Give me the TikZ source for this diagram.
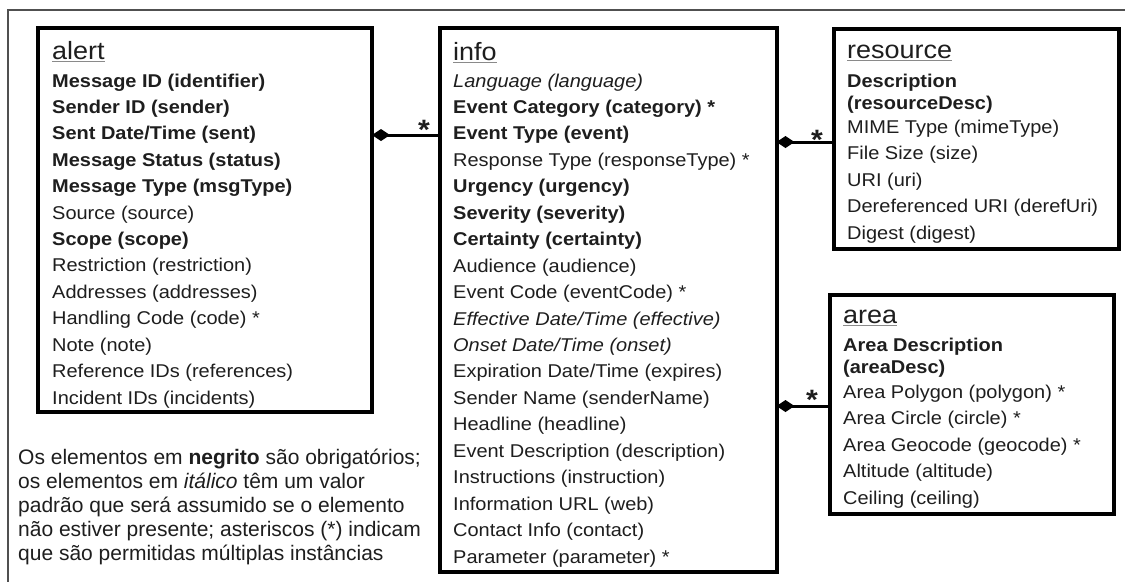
\documentclass[tikz,border=0pt]{standalone}
\usepackage{fontspec}
\usetikzlibrary{arrows.meta}
\newfontfamily\rowfam[FakeStretch=1.08]{Liberation Sans}
\newfontfamily\notefam{Liberation Sans}
\newcommand\rowfont{\rowfam\fontsize{18.5}{22}\selectfont}
\newcommand\ttlfont{\rowfam\fontsize{25}{30}\selectfont}
\newcommand\notefont{\notefam\fontsize{21}{24}\selectfont}
\definecolor{txt}{HTML}{1E1E1E}
\definecolor{framec}{HTML}{505050}
\definecolor{ulc}{HTML}{8A8A8A}
\begin{document}
\begin{tikzpicture}[x=1pt,y=-1pt,
  box/.style={draw=black, line width=4pt, outer sep=0pt, inner sep=0pt, rectangle},
  row/.style={inner sep=0pt, anchor=base west, text=txt},
  ttl/.style={inner sep=0pt, anchor=base west, text=txt, font=\ttlfont},
  ul/.style={draw=ulc, line width=1.4pt},
  conn/.style={line width=3pt, draw=black},
  dia/.style={{Diamond[length=18pt,width=12pt,line width=0pt]}-},
  star/.style={inner sep=0pt, anchor=base, font=\rowfam\fontsize{28}{30}\selectfont\bfseries, text=txt},
  note/.style={inner sep=0pt, anchor=base west, text=txt, font=\notefont}]
\useasboundingbox[fill=white] (0,0) rectangle (1125,582);
% outer frame (top and left only)
\draw[framec, line width=1.5pt] (1125,10) -- (8,10) -- (8,582);
% boxes
\node[box, minimum width=334.5pt, minimum height=384.5pt] (alert) at (204.75,219.75) {};
\node[box, minimum width=337pt, minimum height=544.5pt] (info) at (608,299.75) {};
\node[box, minimum width=285pt, minimum height=219.5pt] (resource) at (976.5,138.75) {};
\node[box, minimum width=283.5pt, minimum height=219.5pt] (area) at (971.75,404.25) {};
% titles
\node[ttl] (tal) at (52,59) {alert};
\node[ttl] (tin) at (453,60) {info};
\node[ttl] (tre) at (847,58) {resource};
\node[ttl] (tar) at (843,323) {area};
\foreach \t in {tal,tin,tre,tar}
  \draw[ul] ([yshift=-2.5pt]\t.base west) -- ([yshift=-2.5pt]\t.base east);
% alert rows
\foreach \fs/\tx [count=\i] in {
  \bfseries/{Message ID (identifier)},
  \bfseries/{Sender ID (sender)},
  \bfseries/{Sent Date/Time (sent)},
  \bfseries/{Message Status (status)},
  \bfseries/{Message Type (msgType)},
  \mdseries/{Source (source)},
  \bfseries/{Scope (scope)},
  \mdseries/{Restriction (restriction)},
  \mdseries/{Addresses (addresses)},
  \mdseries/{Handling Code (code) *},
  \mdseries/{Note (note)},
  \mdseries/{Reference IDs (references)},
  \mdseries/{Incident IDs (incidents)}}
  \node[row, font=\rowfont\fs] (al\i) at (52,{87+26.42*(\i-1)}) {\tx};
% info rows
\foreach \fs/\tx [count=\i] in {
  \itshape/{Language (language)},
  \bfseries/{Event Category (category) *},
  \bfseries/{Event Type (event)},
  \mdseries/{Response Type (responseType) *},
  \bfseries/{Urgency (urgency)},
  \bfseries/{Severity (severity)},
  \bfseries/{Certainty (certainty)},
  \mdseries/{Audience (audience)},
  \mdseries/{Event Code (eventCode) *},
  \itshape/{Effective Date/Time (effective)},
  \itshape/{Onset Date/Time (onset)},
  \mdseries/{Expiration Date/Time (expires)},
  \mdseries/{Sender Name (senderName)},
  \mdseries/{Headline (headline)},
  \mdseries/{Event Description (description)},
  \mdseries/{Instructions (instruction)},
  \mdseries/{Information URL (web)},
  \mdseries/{Contact Info (contact)},
  \mdseries/{Parameter (parameter) *}}
  \node[row, font=\rowfont\fs] (in\i) at (453,{87+26.45*(\i-1)}) {\tx};
% resource rows
\foreach \fs/\yy/\tx [count=\i] in {
  \bfseries/87/{Description},
  \bfseries/109/{(resourceDesc)},
  \mdseries/133/{MIME Type (mimeType)},
  \mdseries/159.5/{File Size (size)},
  \mdseries/186/{URI (uri)},
  \mdseries/212.5/{Dereferenced URI (derefUri)},
  \mdseries/239/{Digest (digest)}}
  \node[row, font=\rowfont\fs] (re\i) at (847,\yy) {\tx};
% area rows
\foreach \fs/\yy/\tx [count=\i] in {
  \bfseries/351/{Area Description},
  \bfseries/373/{(areaDesc)},
  \mdseries/398/{Area Polygon (polygon) *},
  \mdseries/424.5/{Area Circle (circle) *},
  \mdseries/451/{Area Geocode (geocode) *},
  \mdseries/477.5/{Altitude (altitude)},
  \mdseries/504/{Ceiling (ceiling)}}
  \node[row, font=\rowfont\fs] (ar\i) at (843,\yy) {\tx};
% connectors
\coordinate (c1) at (0,135);
\coordinate (c2) at (0,142);
\coordinate (c3) at (0,406);
\draw[conn, dia] (alert.east |- c1) -- (info.west |- c1);
\draw[conn, dia] (info.east |- c2) -- (resource.west |- c2);
\draw[conn, dia] (info.east |- c3) -- (area.west |- c3);
\node[star] (s1) at (424,139) {*};
\node[star] (s2) at (817,149) {*};
\node[star] (s3) at (812,409) {*};
% note
\node[note] (n1) at (18,464) {Os elementos em \textbf{negrito} são obrigatórios;};
\node[note] (n2) at (18,488) {os elementos em \textit{itálico} têm um valor};
\node[note] (n3) at (18,512) {padrão que será assumido se o elemento};
\node[note] (n4) at (18,536) {não estiver presente; asteriscos (*) indicam};
\node[note] (n5) at (18,560) {que são permitidas múltiplas instâncias};
\end{tikzpicture}
\end{document}
